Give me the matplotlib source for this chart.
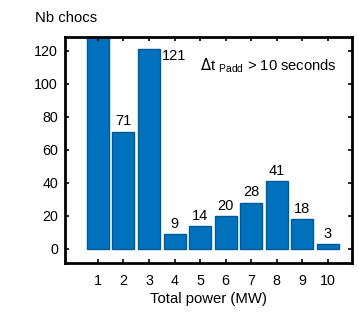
import matplotlib
matplotlib.use("Agg")
from matplotlib import pyplot as plt

plt.rcParams['font.family'] = ['Liberation Sans', 'DejaVu Sans']

power = [1, 2, 3, 4, 5, 6, 7, 8, 9, 10]
nb_chocs = [150, 71, 121, 9, 14, 20, 28, 41, 18, 3]
shown = ['', '71', '', '9', '14', '20', '28', '41', '18', '3']

fig = plt.figure(figsize=(3.59, 3.15), dpi=100)
ax = fig.add_axes([0.181, 0.165, 0.799, 0.718])
ax.bar(power, nb_chocs, width=0.86, color='#0072BD', edgecolor='#005A96', linewidth=1)

for x, y, s in zip(power, nb_chocs, shown):
    if s:
        ax.text(x, y + 2, s, ha='center', va='bottom', fontsize=10.5)
ax.text(3.52, 121, '121', ha='left', va='top', fontsize=10.5)
ax.text(4.98, 111, r'$\Delta$t $_{\mathregular{Padd}}$ > 10 seconds', fontsize=10.6, va='center')

ax.set_xlim(-0.29, 10.94)
ax.set_ylim(-8.5, 128.5)
ax.set_xticks(power)
ax.set_yticks([0, 20, 40, 60, 80, 100, 120])
ax.tick_params(direction='in', top=True, right=True, length=3, width=1.2, labelsize=10.3)
ax.tick_params(axis='x', pad=8)
ax.tick_params(axis='y', pad=5)
for sp in ax.spines.values():
    sp.set_linewidth(2)
ax.set_xlabel('Total power (MW)', fontsize=10.7, labelpad=3)
fig.text(0.097, 0.942, 'Nb chocs', fontsize=10.7, va='center')

plt.savefig('out.png', dpi=100)
